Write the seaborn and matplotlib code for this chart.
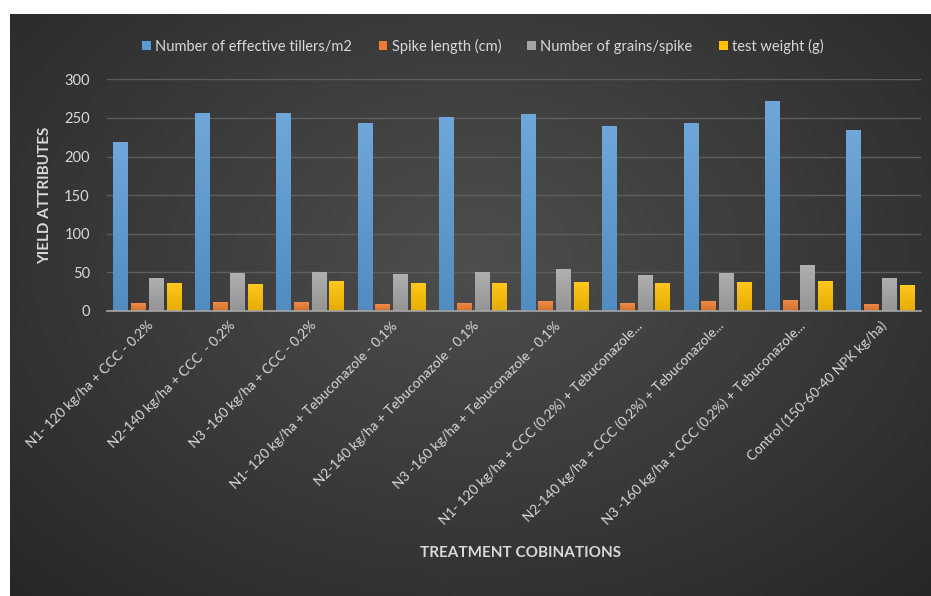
import numpy as np
import pandas as pd
import matplotlib
matplotlib.use("Agg")
import matplotlib.pyplot as plt
import matplotlib.colors as mcolors
import seaborn as sns
from matplotlib.patches import Patch

# ---- data ----
categories = [
    "N1- 120 kg/ha + CCC - 0.2%",
    "N2-140 kg/ha + CCC  - 0.2%",
    "N3 -160 kg/ha + CCC - 0.2%",
    "N1- 120 kg/ha + Tebuconazole - 0.1%",
    "N2-140 kg/ha + Tebuconazole - 0.1%",
    "N3 -160 kg/ha + Tebuconazole - 0.1%",
    "N1- 120 kg/ha + CCC (0.2%) + Tebuconazole...",
    "N2-140 kg/ha + CCC (0.2%) + Tebuconazole...",
    "N3 -160 kg/ha + CCC (0.2%) + Tebuconazole...",
    "Control (150-60-40 NPK kg/ha)",
]
series_names = ["Number of effective tillers/m2", "Spike length (cm)",
                "Number of grains/spike", "test weight (g)"]
tillers = [219, 256, 257, 243, 251, 255, 239, 243, 272, 234]
spike_len = [10, 12, 12, 9, 10.7, 12.9, 10, 13, 14.7, 9.5]
grains = [42.5, 49, 51, 48, 51, 54, 47, 49.7, 60, 43]
test_wt = [36, 34.5, 38.8, 36, 36.6, 37.5, 36.7, 37.5, 39.3, 33.2]
yticks = [0, 50, 100, 150, 200, 250, 300]

colors = ["#5b9bd5", "#ed7d31", "#a5a5a5", "#ffc000"]

rows = []
for name, vals in zip(series_names, [tillers, spike_len, grains, test_wt]):
    for c, v in zip(categories, vals):
        rows.append({"cat": c, "series": name, "value": v})
df = pd.DataFrame(rows)

sns.set_theme(style="dark")
plt.rcParams["font.family"] = ["Lato", "DejaVu Sans"]

W, H = 931, 596
fig = plt.figure(figsize=(W / 100, H / 100), dpi=100)
fig.patch.set_facecolor("white")

# radial gradient background panel
bg = fig.add_axes([10 / W, 0, 921 / W, 582 / H], zorder=0)
nx, ny = 460, 290
xx, yy = np.meshgrid(np.linspace(0, 1, nx), np.linspace(0, 1, ny))
cx, cy = 0.5, 0.58
r = np.sqrt(((xx - cx) / 0.75) ** 2 + ((yy - cy) / 0.85) ** 2)
r = np.clip(r, 0, 1)
inner = np.array([0x4e, 0x4e, 0x4e]) / 255
outer = np.array([0x25, 0x25, 0x25]) / 255
img = inner[None, None, :] * (1 - r[..., None]) + outer[None, None, :] * r[..., None]
bg.imshow(img, aspect="auto", extent=[0, 1, 0, 1], origin="lower")
bg.set_axis_off()

left, right = 106.5 / W, 921 / W
bottom, top = (H - 311) / H, (H - 79.3) / H
ax = fig.add_axes([left, bottom, right - left, top - bottom], zorder=1)
ax.patch.set_alpha(0)

sns.barplot(data=df, x="cat", y="value", hue="series", palette=colors,
            width=0.87, gap=0.18, saturation=1, ax=ax, legend=False,
            edgecolor="none", zorder=3)

ax.set_ylim(0, 300)
ax.set_xlim(-0.5, len(categories) - 0.5)

# subtle vertical gradient on each bar (Office style)
for p in ax.patches:
    fc = np.array(mcolors.to_rgb(p.get_facecolor()))
    topc = fc + (1 - fc) * 0.12
    botc = fc * 0.90
    t = np.linspace(0, 1, 64)[:, None]
    grad = botc[None, :] * (1 - t) + topc[None, :] * t
    grad = grad[:, None, :]
    x0, y0 = p.get_x(), p.get_y()
    w, h = p.get_width(), p.get_height()
    im = ax.imshow(grad, extent=[x0, x0 + w, y0, y0 + h], origin="lower",
                   aspect="auto", zorder=3.5)
    im.set_clip_path(p)
ax.set_xlim(-0.5, len(categories) - 0.5)
ax.set_ylim(0, 300)
ax.set_aspect("auto")

ax.set_yticks(yticks)
ax.set_yticklabels([str(t) for t in yticks], color="#d9d9d9", fontsize=10.5)
ax.tick_params(axis="y", length=0, pad=12)
ax.tick_params(axis="x", length=0, pad=6)
ax.set_xticks(range(len(categories)))
ax.set_xticklabels(categories, rotation=45, ha="right", va="top",
                   rotation_mode="anchor", color="#d9d9d9", fontsize=9.8)
ax.grid(axis="y", color="#5e5e5e", linewidth=1, zorder=0)
ax.grid(axis="x", visible=False)
for s in ["top", "right", "left"]:
    ax.spines[s].set_visible(False)
ax.spines["bottom"].set_color("#a6a6a6")
ax.spines["bottom"].set_linewidth(1.2)
ax.spines["bottom"].set_zorder(4)

ax.set_xlabel("")
ax.set_ylabel("")
fig.text(45 / W, 1 - 195 / H, "YIELD ATTRIBUTES", rotation=90, ha="center",
         va="center", color="#d9d9d9", fontsize=11, fontweight="bold")
fig.text(520 / W, 1 - 553 / H, "TREATMENT COBINATIONS", ha="center",
         va="center", color="#d9d9d9", fontsize=11, fontweight="bold")

handles = [Patch(facecolor=c, edgecolor="none") for c in colors]
leg = fig.legend(handles, series_names, loc="center", ncol=4,
                 bbox_to_anchor=(483 / W, 1 - 46 / H), frameon=False,
                 fontsize=10.5, handlelength=0.6, handleheight=0.6,
                 handletextpad=0.3, columnspacing=1.8, labelcolor="#d9d9d9")

fig.savefig("out.png", dpi=100, facecolor="white")
